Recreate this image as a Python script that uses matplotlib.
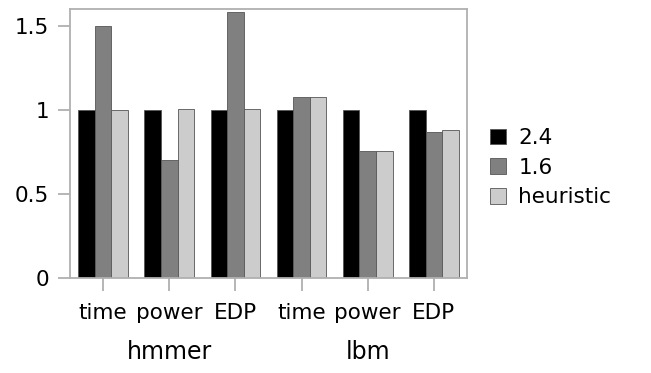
import numpy as np
import matplotlib.pyplot as plt
from matplotlib.transforms import blended_transform_factory

# data
metrics = ["time", "power", "EDP", "time", "power", "EDP"]
benchmarks = ["hmmer", "lbm"]
freq_24 = [1.0, 1.0, 1.0, 1.0, 1.0, 1.0]
freq_16 = [1.50, 0.70, 1.58, 1.075, 0.755, 0.87]
heuristic = [1.0, 1.005, 1.005, 1.075, 0.755, 0.88]

series = [("2.4", freq_24, "#000000"),
          ("1.6", freq_16, "#808080"),
          ("heuristic", heuristic, "#cccccc")]

plt.rcParams["font.family"] = "DejaVu Sans"
fig = plt.figure(figsize=(6.51, 3.73), dpi=100)
ax = fig.add_axes([70 / 651, 1 - 278 / 373, 397 / 651, 269 / 373])

x = np.arange(len(metrics))
w = 0.25
for i, (name, vals, col) in enumerate(series):
    ax.bar(x + (i - 1) * w, vals, w, color=col, edgecolor="#555555",
           linewidth=0.6, label=name)

ax.set_xlim(-0.5, 5.5)
ax.set_ylim(0, 1.6)
ax.set_yticks([0, 0.5, 1, 1.5])
ax.set_yticklabels(["0", "0.5", "1", "1.5"])
ax.set_xticks(x)
ax.set_xticklabels(metrics)

gray = "#b0b0b0"
for s in ax.spines.values():
    s.set_color(gray)
    s.set_linewidth(1.3)
ax.tick_params(axis="both", colors=gray, labelcolor="black", labelsize=15.5,
               length=9, width=1.3)
ax.tick_params(axis="x", pad=9)
ax.tick_params(axis="y", pad=6)

trans = blended_transform_factory(ax.transData, fig.transFigure)
for j, b in enumerate(benchmarks):
    ax.text(1 + 3 * j, 1 - 352 / 373, b, transform=trans, ha="center",
            va="center", fontsize=17)

leg = ax.legend(loc="center left", bbox_to_anchor=(1.01, 0.41), frameon=False,
                fontsize=15.5, handlelength=0.75, handleheight=0.75,
                handletextpad=0.55, labelspacing=0.45)

fig.savefig("out.png", dpi=100)
